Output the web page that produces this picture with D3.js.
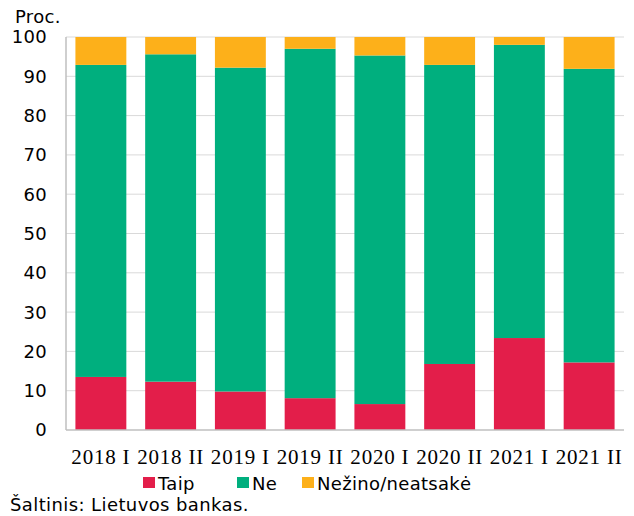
<!DOCTYPE html>
<html>
<head>
<meta charset="utf-8">
<script src="https://cdn.jsdelivr.net/npm/d3@7"></script>
<style>
  body { margin: 0; background: #fff; }
  svg text { font-family: "DejaVu Sans", Verdana, sans-serif; fill: #000; }
</style>
</head>
<body>
<svg id="chart" width="634" height="516"></svg>
<script>
// periods and values (percent)
const periods = ['2018 I', '2018 II', '2019 I', '2019 II', '2020 I', '2020 II', '2021 I', '2021 II'];
const taip = [13.5, 12.3, 9.8, 8.1, 6.6, 16.8, 23.4, 17.2];
const ne = [79.4, 83.3, 82.4, 88.9, 88.7, 76.1, 74.6, 74.7];
const nezino = [7.1, 4.4, 7.8, 3.0, 4.7, 7.1, 2.0, 8.1];
const yTicks = [0, 10, 20, 30, 40, 50, 60, 70, 80, 90, 100];

const seriesNames = ['Taip', 'Ne', 'Nežino/neatsakė'];
const colors = ['#e31e4a', '#00af7e', '#fdb01a'];

const svg = d3.select('#chart');
const margin = { top: 37, right: 10, bottom: 86, left: 66 };
const width = 634 - margin.left - margin.right;
const height = 516 - margin.top - margin.bottom;

const rows = periods.map((p, i) => ({ period: p, 'Taip': taip[i], 'Ne': ne[i], 'Nežino/neatsakė': nezino[i] }));
const stacked = d3.stack().keys(seriesNames)(rows);

const x = d3.scaleBand().domain(periods).range([0, width]).paddingInner(0.27).paddingOuter(0.135);
const y = d3.scaleLinear().domain([0, 100]).range([height, 0]);

const g = svg.append('g').attr('transform', `translate(${margin.left},${margin.top})`);

// gridlines
g.append('g')
  .selectAll('line')
  .data(yTicks.filter(d => d > 0))
  .join('line')
  .attr('x1', 0).attr('x2', width)
  .attr('y1', d => y(d)).attr('y2', d => y(d))
  .attr('stroke', '#d9d9d9').attr('stroke-width', 1);

// bars
g.append('g')
  .selectAll('g')
  .data(stacked)
  .join('g')
  .attr('fill', (d, i) => colors[i])
  .selectAll('rect')
  .data(d => d)
  .join('rect')
  .attr('x', d => x(d.data.period))
  .attr('y', d => y(d[1]))
  .attr('width', x.bandwidth())
  .attr('height', d => y(d[0]) - y(d[1]));

// axes lines
g.append('line').attr('x1', 0).attr('x2', 0).attr('y1', 0).attr('y2', height)
  .attr('stroke', '#bfbfbf').attr('stroke-width', 1.5);
g.append('line').attr('x1', 0).attr('x2', width).attr('y1', height).attr('y2', height)
  .attr('stroke', '#bfbfbf').attr('stroke-width', 1.5);

// y tick labels
g.append('g')
  .selectAll('text')
  .data(yTicks)
  .join('text')
  .attr('x', -19)
  .attr('y', d => y(d))
  .attr('dy', '0.36em')
  .attr('text-anchor', 'end')
  .style('font-size', '18px')
  .style('letter-spacing', '0.3px')
  .text(d => d);

// x labels
g.append('g')
  .selectAll('text')
  .data(periods)
  .join('text')
  .attr('x', d => x(d) + x.bandwidth() / 2)
  .attr('y', height + 34)
  .attr('text-anchor', 'middle')
  .style('font-family', '"Liberation Serif", "Times New Roman", serif')
  .style('font-size', '21px')
  .style('letter-spacing', '0.8px')
  .text(d => d);

svg.append('text').attr('x', 15).attr('y', 23).style('font-size', '18px').style('letter-spacing', '0.3px').text('Proc.');

// legend
const legendX = [143, 237, 302];
const legend = svg.append('g');
seriesNames.forEach((name, i) => {
  legend.append('rect').attr('x', legendX[i]).attr('y', 477).attr('width', 12).attr('height', 11).attr('fill', colors[i]);
  legend.append('text').attr('x', legendX[i] + 15).attr('y', 490).style('font-size', '18px').style('letter-spacing', '0.3px').text(name);
});

svg.append('text').attr('x', 10).attr('y', 511).style('font-size', '18px').style('letter-spacing', '0.4px').text('Šaltinis: Lietuvos bankas.');
</script>
</body>
</html>
